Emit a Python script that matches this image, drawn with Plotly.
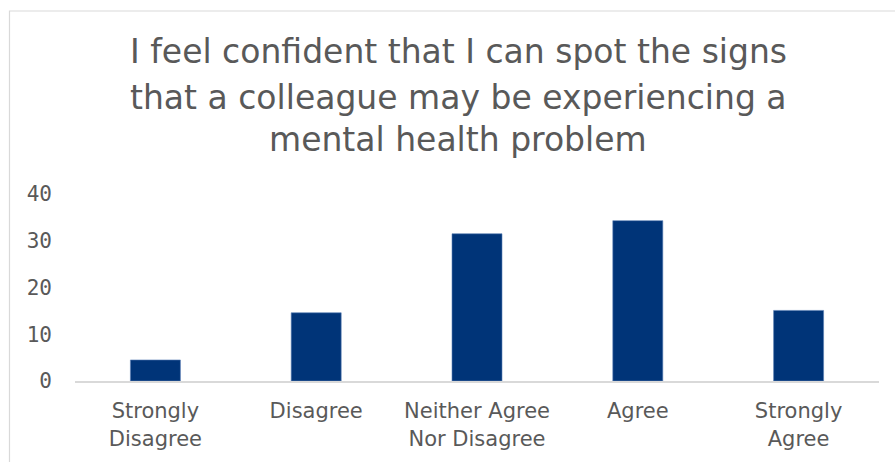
import plotly.graph_objects as go

# Survey responses (% of respondents)
categories = ["Strongly<br>Disagree", "Disagree", "Neither Agree<br>Nor Disagree", "Agree", "Strongly<br>Agree"]
values = [4.5, 14.6, 31.5, 34.3, 15.1]
y_ticks = [0, 10, 20, 30, 40]
title_lines = [
    "I feel confident that I can spot the signs",
    "that a colleague may be experiencing a",
    "mental health problem",
]

W, H = 895, 462
ml, mr, mt, mb = 75, 16, 193.5, 80.5
plot_w = W - ml - mr
plot_h = H - mt - mb


def px_x(px):
    return (px - ml) / plot_w


def px_y(py):
    return (H - mb - py) / plot_h


fig = go.Figure(
    go.Bar(
        x=categories,
        y=values,
        marker=dict(color="#003478", line=dict(color="#5b7fb5", width=0.6)),
        hoverinfo="skip",
    )
)

title_font = dict(family="DejaVu Sans", size=33, color="#595959")
for line, py in zip(title_lines, [50, 96, 139]):
    fig.add_annotation(
        text=line, xref="paper", yref="paper", x=px_x(458), y=px_y(py),
        xanchor="center", yanchor="middle", showarrow=False, font=title_font,
    )

# chart area border
fig.add_shape(
    type="rect", xref="paper", yref="paper",
    x0=px_x(9.5), x1=px_x(906), y0=px_y(470), y1=px_y(9.5),
    line=dict(color="#d9d9d9", width=1.2), layer="below",
)

fig.update_layout(
    width=W, height=H,
    margin=dict(l=ml, r=mr, t=mt, b=mb, pad=0),
    paper_bgcolor="white", plot_bgcolor="white",
    bargap=0.689, showlegend=False,
    font=dict(family="DejaVu Sans", color="#595959"),
)
fig.update_xaxes(
    showgrid=False, showline=True, linecolor="#d9d9d9", linewidth=2,
    ticks="", tickfont=dict(family="DejaVu Sans", size=21, color="#595959"),
    ticklabelstandoff=10, zeroline=False,
)
fig.update_yaxes(
    range=[0, 40], tickvals=y_ticks, showgrid=False, showline=False, zeroline=False,
    ticks="", tickfont=dict(family="DejaVu Sans Mono", size=21, color="#595959"),
    ticklabelstandoff=22,
)

fig.write_html("out.html")
